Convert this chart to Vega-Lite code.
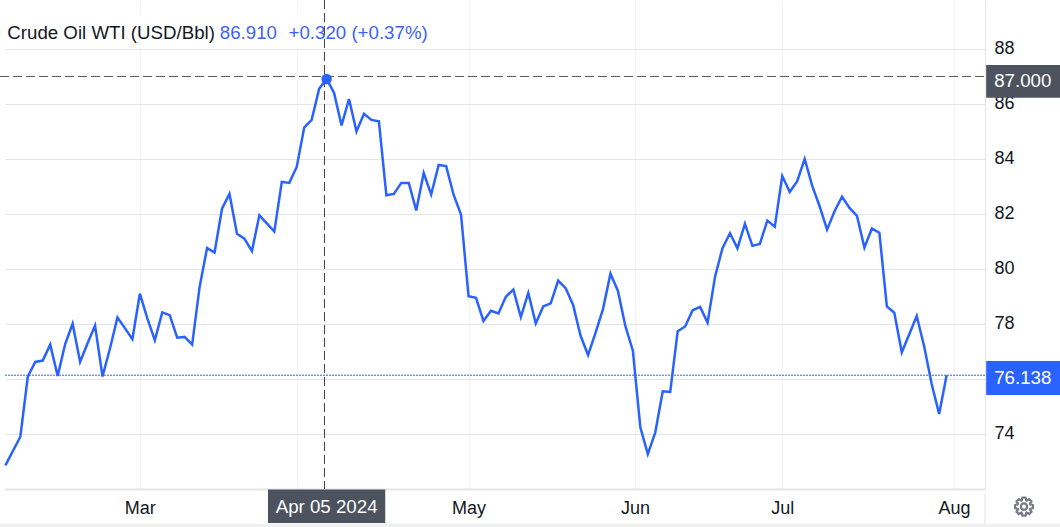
{
"$schema":"https://vega.github.io/schema/vega-lite/v6.json",
"width":980,"height":489,
"padding":{"left":5,"top":0,"right":75,"bottom":38},
"autosize":{"type":"none"},
"background":"white",
"view":{"stroke":null},
"datasets":{"wti":[
{"n":0,"date":"2024-02-06","close":72.86},{"n":2,"date":"2024-02-08","close":73.9},{"n":3,"date":"2024-02-09","close":76.09},{"n":4,"date":"2024-02-12","close":76.62},{"n":5,"date":"2024-02-13","close":76.67},{"n":6,"date":"2024-02-14","close":77.25},{"n":7,"date":"2024-02-15","close":76.11},{"n":8,"date":"2024-02-16","close":77.27},{"n":9,"date":"2024-02-19","close":78.01},{"n":10,"date":"2024-02-20","close":76.62},{"n":11,"date":"2024-02-21","close":77.3},{"n":12,"date":"2024-02-22","close":77.94},{"n":13,"date":"2024-02-23","close":76.09},{"n":14,"date":"2024-02-26","close":77.11},{"n":15,"date":"2024-02-27","close":78.24},{"n":16,"date":"2024-02-28","close":77.85},{"n":17,"date":"2024-02-29","close":77.45},{"n":18,"date":"2024-03-01","close":79.1},{"n":19,"date":"2024-03-04","close":78.2},{"n":20,"date":"2024-03-05","close":77.41},{"n":21,"date":"2024-03-06","close":78.42},{"n":22,"date":"2024-03-07","close":78.32},{"n":23,"date":"2024-03-08","close":77.5},{"n":24,"date":"2024-03-11","close":77.53},{"n":25,"date":"2024-03-12","close":77.25},{"n":26,"date":"2024-03-13","close":79.35},{"n":27,"date":"2024-03-14","close":80.76},{"n":28,"date":"2024-03-15","close":80.6},{"n":29,"date":"2024-03-18","close":82.19},{"n":30,"date":"2024-03-19","close":82.73},{"n":31,"date":"2024-03-20","close":81.28},{"n":32,"date":"2024-03-21","close":81.1},{"n":33,"date":"2024-03-22","close":80.65},{"n":34,"date":"2024-03-25","close":81.95},{"n":35,"date":"2024-03-26","close":81.66},{"n":36,"date":"2024-03-27","close":81.36},{"n":37,"date":"2024-03-28","close":83.17},{"n":38,"date":"2024-03-29","close":83.13},{"n":39,"date":"2024-04-01","close":83.71},{"n":40,"date":"2024-04-02","close":85.14},{"n":41,"date":"2024-04-03","close":85.42},{"n":42,"date":"2024-04-04","close":86.55},{"n":43,"date":"2024-04-05","close":86.91},{"n":44,"date":"2024-04-08","close":86.4},{"n":45,"date":"2024-04-09","close":85.22},{"n":46,"date":"2024-04-10","close":86.18},{"n":47,"date":"2024-04-11","close":85.0},{"n":48,"date":"2024-04-12","close":85.64},{"n":49,"date":"2024-04-15","close":85.42},{"n":50,"date":"2024-04-16","close":85.37},{"n":51,"date":"2024-04-17","close":82.68},{"n":52,"date":"2024-04-18","close":82.73},{"n":53,"date":"2024-04-19","close":83.13},{"n":54,"date":"2024-04-22","close":83.13},{"n":55,"date":"2024-04-23","close":82.13},{"n":56,"date":"2024-04-24","close":83.49},{"n":57,"date":"2024-04-25","close":82.71},{"n":58,"date":"2024-04-26","close":83.78},{"n":59,"date":"2024-04-29","close":83.74},{"n":60,"date":"2024-04-30","close":82.7},{"n":61,"date":"2024-05-01","close":81.97},{"n":62,"date":"2024-05-02","close":79.01},{"n":63,"date":"2024-05-03","close":78.95},{"n":64,"date":"2024-05-06","close":78.11},{"n":65,"date":"2024-05-07","close":78.48},{"n":66,"date":"2024-05-08","close":78.38},{"n":67,"date":"2024-05-09","close":78.99},{"n":68,"date":"2024-05-10","close":79.25},{"n":69,"date":"2024-05-13","close":78.25},{"n":70,"date":"2024-05-14","close":79.13},{"n":71,"date":"2024-05-15","close":78.02},{"n":72,"date":"2024-05-16","close":78.64},{"n":73,"date":"2024-05-17","close":78.75},{"n":74,"date":"2024-05-20","close":79.58},{"n":75,"date":"2024-05-21","close":79.3},{"n":76,"date":"2024-05-22","close":78.69},{"n":77,"date":"2024-05-23","close":77.57},{"n":78,"date":"2024-05-24","close":76.87},{"n":79,"date":"2024-05-27","close":77.68},{"n":80,"date":"2024-05-28","close":78.54},{"n":81,"date":"2024-05-29","close":79.83},{"n":82,"date":"2024-05-30","close":79.2},{"n":83,"date":"2024-05-31","close":77.92},{"n":84,"date":"2024-06-03","close":77.03},{"n":85,"date":"2024-06-04","close":74.24},{"n":86,"date":"2024-06-05","close":73.27},{"n":87,"date":"2024-06-06","close":74.06},{"n":88,"date":"2024-06-07","close":75.55},{"n":89,"date":"2024-06-10","close":75.53},{"n":90,"date":"2024-06-11","close":77.74},{"n":91,"date":"2024-06-12","close":77.91},{"n":92,"date":"2024-06-13","close":78.5},{"n":93,"date":"2024-06-14","close":78.62},{"n":94,"date":"2024-06-17","close":78.05},{"n":95,"date":"2024-06-18","close":79.72},{"n":96,"date":"2024-06-19","close":80.76},{"n":97,"date":"2024-06-20","close":81.3},{"n":98,"date":"2024-06-21","close":80.75},{"n":99,"date":"2024-06-24","close":81.64},{"n":100,"date":"2024-06-25","close":80.84},{"n":101,"date":"2024-06-26","close":80.91},{"n":102,"date":"2024-06-27","close":81.76},{"n":103,"date":"2024-06-28","close":81.54},{"n":104,"date":"2024-07-01","close":83.38},{"n":105,"date":"2024-07-02","close":82.8},{"n":106,"date":"2024-07-03","close":83.19},{"n":107,"date":"2024-07-04","close":84.0},{"n":108,"date":"2024-07-05","close":83.03},{"n":109,"date":"2024-07-08","close":82.28},{"n":110,"date":"2024-07-09","close":81.43},{"n":111,"date":"2024-07-10","close":82.1},{"n":112,"date":"2024-07-11","close":82.63},{"n":113,"date":"2024-07-12","close":82.22},{"n":114,"date":"2024-07-15","close":81.93},{"n":115,"date":"2024-07-16","close":80.78},{"n":116,"date":"2024-07-17","close":81.47},{"n":117,"date":"2024-07-18","close":81.32},{"n":118,"date":"2024-07-19","close":78.64},{"n":119,"date":"2024-07-22","close":78.41},{"n":120,"date":"2024-07-23","close":76.97},{"n":121,"date":"2024-07-24","close":77.63},{"n":122,"date":"2024-07-25","close":78.29},{"n":123,"date":"2024-07-26","close":77.18},{"n":124,"date":"2024-07-29","close":75.82},{"n":125,"date":"2024-07-30","close":74.73},{"n":126,"date":"2024-07-31","close":76.138}
],"one":[{"k":1}]},
"data":{"name":"wti"},
"layer":[
{"mark":{"type":"line","color":"#2962ff","strokeWidth":2.5,"strokeJoin":"miter","interpolate":"linear"},
 "encoding":{
  "x":{"field":"n","type":"quantitative","title":null,"scale":{"domain":[-0.054,131.14],"nice":false,"zero":false},
   "axis":{"orient":"bottom","values":[18,39,62,84.3,104,127],"labelExpr":"datum.value==18?'Mar':datum.value==39?'':datum.value==62?'May':datum.value==84.3?'Jun':datum.value==104?'Jul':'Aug'","grid":true,"gridColor":"#f0f3f7","gridWidth":1,"ticks":false,"domainColor":"#e3e3e3","domainWidth":2,"labelFont":"Liberation Sans","labelFontSize":18,"labelColor":"#131722","labelPadding":10,"labelFlush":false,"labelOverlap":false,"zindex":0}},
  "y":{"field":"close","type":"quantitative","title":null,"scale":{"domain":[72,89.78],"nice":false,"zero":false},
   "axis":{"orient":"right","values":[74,76,78,80,82,84,86,88],"labelExpr":"datum.value==76?'':datum.label","grid":true,"gridColor":"#e6e6e6","gridWidth":1,"ticks":false,"domainColor":"#e3e3e3","domainWidth":1,"labelFont":"Liberation Sans","labelFontSize":18,"labelColor":"#131722","labelPadding":9,"labelOverlap":false,"zindex":0}}
 }},
{"data":{"name":"one"},"mark":{"type":"rect","color":"white"},"encoding":{"x":{"datum":-0.054},"x2":{"datum":58},"y":{"datum":89.31},"y2":{"datum":88.04}}},
{"data":{"name":"one"},"mark":{"type":"rect","color":"#f0f0f0"},"encoding":{"x":{"datum":-0.72},"x2":{"datum":141.2},"y":{"datum":70.74},"y2":{"datum":70.62}}},
{"data":{"name":"one"},"mark":{"type":"rule","color":"#e3e3e3","strokeWidth":1},"encoding":{"x":{"datum":131.14},"y":{"datum":71.82},"y2":{"datum":70.74}}},
{"mark":{"type":"rule","color":"#2962ff","strokeWidth":1,"strokeDash":[2,1]},"transform":[{"filter":"datum.date=='2024-07-31'"}],"encoding":{"y":{"field":"close","type":"quantitative"},"x":{"datum":-0.054},"x2":{"datum":131.14}}},
{"data":{"name":"one"},"mark":{"type":"rule","color":"#555555","strokeWidth":1,"strokeDash":[9,4]},"encoding":{"y":{"datum":87},"x":{"datum":-0.72},"x2":{"datum":131.14}}},
{"data":{"name":"one"},"mark":{"type":"rule","color":"#444444","strokeWidth":1,"strokeDash":[9,4]},"encoding":{"x":{"datum":42.72},"y":{"datum":89.78},"y2":{"datum":72}}},
{"mark":{"type":"point","filled":true,"color":"#2962ff","size":110,"opacity":1},"transform":[{"filter":"datum.date=='2024-04-05'"}],"encoding":{"x":{"field":"n","type":"quantitative"},"y":{"field":"close","type":"quantitative"}}},
{"data":{"name":"one"},"mark":{"type":"rect","color":"#4c525e"},"encoding":{"x":{"datum":35.15},"x2":{"datum":50.85},"y":{"datum":71.98},"y2":{"datum":70.76}}},
{"data":{"name":"one"},"mark":{"type":"rect","color":"#4c525e"},"encoding":{"x":{"datum":131.3},"x2":{"datum":141.2},"y":{"datum":87.42},"y2":{"datum":86.23}}},
{"data":{"name":"one"},"mark":{"type":"rect","color":"#2962ff"},"encoding":{"x":{"datum":131.3},"x2":{"datum":141.2},"y":{"datum":76.655},"y2":{"datum":75.42}}},
{"data":{"name":"one"},"mark":{"type":"text","font":"Liberation Sans","fontSize":18.7,"color":"white","text":"Apr 05 2024"},"encoding":{"x":{"datum":43},"y":{"datum":71.35}}},
{"data":{"name":"one"},"mark":{"type":"text","font":"Liberation Sans","fontSize":18.7,"color":"white","text":"87.000"},"encoding":{"x":{"datum":136.2},"y":{"datum":86.84}}},
{"mark":{"type":"text","font":"Liberation Sans","fontSize":18.7,"color":"white"},"transform":[{"filter":"datum.date=='2024-07-31'"}],"encoding":{"x":{"datum":136.2},"y":{"datum":76.03},"text":{"field":"close","type":"quantitative","format":".3f"}}},
{"data":{"name":"one"},"mark":{"type":"text","font":"Liberation Sans","fontSize":18.7,"color":"#131722","align":"left","text":"Crude Oil WTI (USD/Bbl)"},"encoding":{"x":{"datum":0.25},"y":{"datum":88.57}}},
{"data":{"name":"one"},"mark":{"type":"text","font":"Liberation Sans","fontSize":18.7,"color":"#3d63f5","align":"left","text":"86.910"},"encoding":{"x":{"datum":28.7},"y":{"datum":88.57}}},
{"data":{"name":"one"},"mark":{"type":"text","font":"Liberation Sans","fontSize":18.7,"color":"#3d63f5","align":"left","text":"+0.320 (+0.37%)"},"encoding":{"x":{"datum":37.9},"y":{"datum":88.57}}},
{"data":{"name":"one"},"mark":{"type":"point","filled":false,"strokeWidth":2.2,"color":"#787b86","opacity":1,"size":330,"shape":"M0.677,-0.246 L0.985,-0.174 L0.985,0.174 L0.677,0.246 L0.653,0.304 L0.819,0.574 L0.574,0.819 L0.304,0.653 L0.246,0.677 L0.174,0.985 L-0.174,0.985 L-0.246,0.677 L-0.304,0.653 L-0.574,0.819 L-0.819,0.574 L-0.653,0.304 L-0.677,0.246 L-0.985,0.174 L-0.985,-0.174 L-0.677,-0.246 L-0.653,-0.304 L-0.819,-0.574 L-0.574,-0.819 L-0.304,-0.653 L-0.246,-0.677 L-0.174,-0.985 L0.174,-0.985 L0.246,-0.677 L0.304,-0.653 L0.574,-0.819 L0.819,-0.574 L0.653,-0.304 Z M0.35,0 A0.35,0.35 0 1,1 -0.35,0 A0.35,0.35 0 1,1 0.35,0 Z"},"encoding":{"x":{"datum":136.36},"y":{"datum":71.36}}}
]
}
